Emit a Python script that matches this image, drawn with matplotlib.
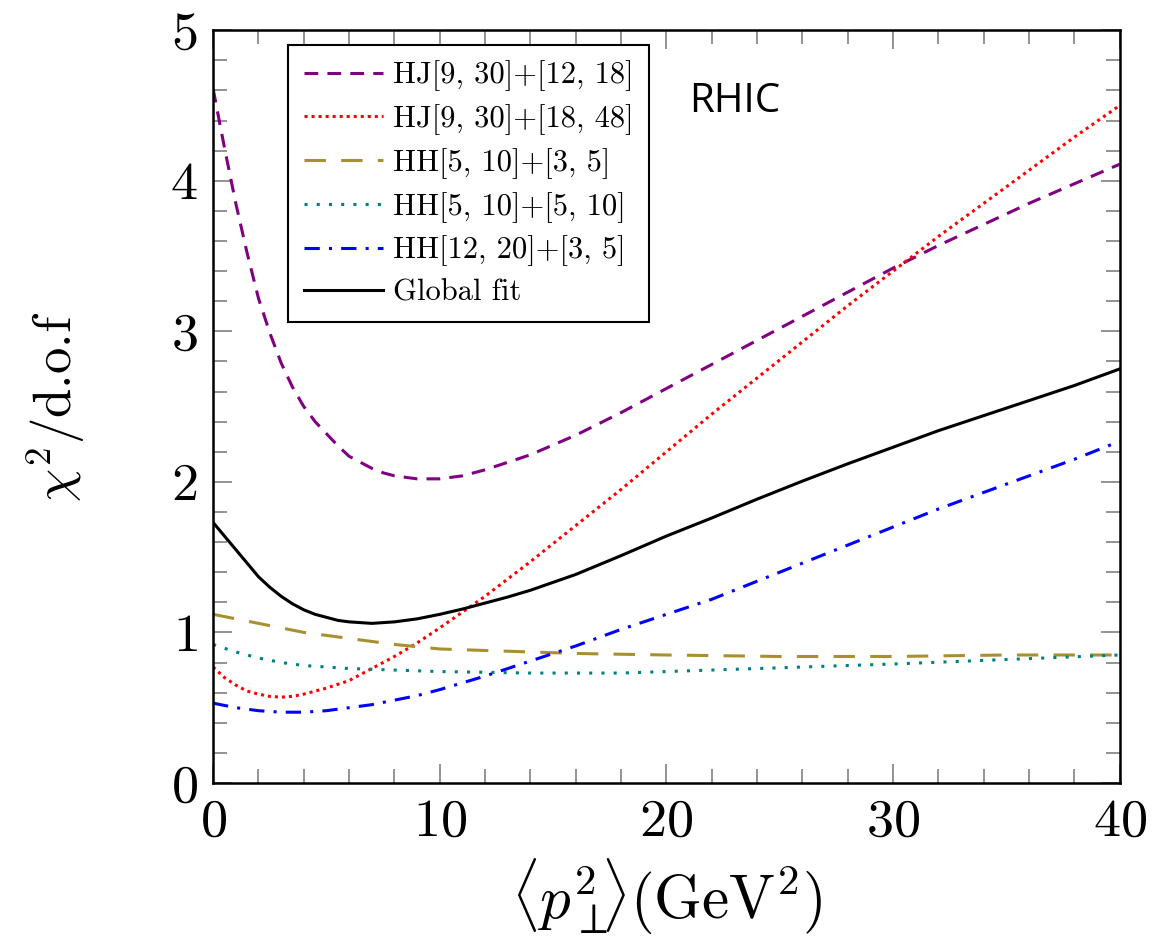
import matplotlib
matplotlib.use("Agg")
import matplotlib.pyplot as plt
import numpy as np

plt.rcParams['mathtext.fontset'] = 'cm'
plt.rcParams['font.family'] = ['cmr10', 'DejaVu Serif']
plt.rcParams['axes.formatter.use_mathtext'] = True

# chi^2/d.o.f
x_hj1 = [0, 0.5, 1, 1.5, 2, 2.5, 3, 3.5, 4, 4.5, 5, 5.5, 6, 6.5, 7, 7.5, 8, 9, 10, 11, 12, 14, 16, 18, 20,
         22, 24, 26, 28, 30, 32, 34, 36, 38, 40]
y_hj1 = [4.61, 4.22, 3.85, 3.52, 3.22, 2.99, 2.79, 2.63, 2.50, 2.40, 2.32, 2.24, 2.17, 2.13, 2.09, 2.06, 2.04,
         2.02, 2.02, 2.04, 2.08, 2.18, 2.31, 2.46, 2.62, 2.78, 2.94, 3.10, 3.26, 3.42, 3.57, 3.71, 3.85, 3.98, 4.11]

x_hj2 = [0, 0.5, 1, 1.5, 2, 2.5, 3, 3.5, 4, 4.5, 5, 5.5, 6, 7, 8, 9, 10, 12, 14, 16, 18, 20, 22, 24, 26, 28,
         30, 32, 34, 36, 38, 40]
y_hj2 = [0.77, 0.70, 0.65, 0.61, 0.59, 0.575, 0.57, 0.575, 0.59, 0.61, 0.63, 0.655, 0.68, 0.76, 0.84, 0.93,
         1.03, 1.24, 1.47, 1.71, 1.95, 2.20, 2.45, 2.69, 2.93, 3.17, 3.40, 3.63, 3.85, 4.07, 4.29, 4.50]

x_hh1 = [0, 2, 4, 6, 8, 10, 12, 14, 16, 20, 25, 30, 35, 40]
y_hh1 = [1.12, 1.06, 1.00, 0.96, 0.92, 0.89, 0.88, 0.87, 0.86, 0.85, 0.84, 0.84, 0.85, 0.85]

x_hh2 = [0, 1, 2, 3, 4, 6, 8, 10, 14, 18, 22, 26, 30, 35, 40]
y_hh2 = [0.92, 0.87, 0.83, 0.80, 0.78, 0.76, 0.75, 0.74, 0.73, 0.73, 0.75, 0.77, 0.79, 0.82, 0.85]

x_hh3 = [0, 1, 2, 3, 4, 5, 6, 7, 8, 9, 10, 12, 14, 16, 18, 20, 22, 24, 26, 28, 30, 32, 34, 36, 38, 40]
y_hh3 = [0.53, 0.50, 0.48, 0.47, 0.47, 0.48, 0.50, 0.52, 0.55, 0.58, 0.62, 0.71, 0.81, 0.91, 1.02, 1.12, 1.22,
         1.34, 1.46, 1.58, 1.70, 1.82, 1.93, 2.04, 2.15, 2.27]

x_glob = [0, 0.5, 1, 1.5, 2, 2.5, 3, 3.5, 4, 4.5, 5, 5.5, 6, 7, 8, 9, 10, 11, 12, 13, 14, 16, 18, 20, 22, 24,
          26, 28, 30, 32, 34, 36, 38, 40]
y_glob = [1.73, 1.64, 1.55, 1.46, 1.37, 1.30, 1.24, 1.19, 1.15, 1.12, 1.10, 1.08, 1.07, 1.06, 1.07, 1.09, 1.12,
          1.155, 1.195, 1.235, 1.28, 1.385, 1.51, 1.64, 1.76, 1.885, 2.005, 2.12, 2.23, 2.34, 2.44, 2.54, 2.64, 2.75]

labels = ['HJ[9, 30]+[12, 18]', 'HJ[9, 30]+[18, 48]', 'HH[5, 10]+[3, 5]',
          'HH[5, 10]+[5, 10]', 'HH[12, 20]+[3, 5]', 'Global fit']

fig = plt.figure(figsize=(11.52, 9.44), dpi=100)
ax = fig.add_axes([0.185, 0.1706, 0.787, 0.7974])

lw = 2.2
ax.plot(x_hj1, y_hj1, color='#800080', lw=lw, dashes=(4.5, 3), label=labels[0])
ax.plot(x_hj2, y_hj2, color='#ff0000', lw=lw, dashes=(1, 1.3), label=labels[1])
ax.plot(x_hh1, y_hh1, color='#a89030', lw=lw, dashes=(7, 5), label=labels[2])
ax.plot(x_hh2, y_hh2, color='#008080', lw=lw, dashes=(1, 3), label=labels[3])
ax.plot(x_hh3, y_hh3, color='#0000ff', lw=lw, dashes=(5, 3, 1, 3), label=labels[4])
ax.plot(x_glob, y_glob, color='black', lw=lw, label=labels[5])

ax.set_xlim(0, 40)
ax.set_ylim(0, 5)
ax.set_xticks([0, 10, 20, 30, 40])
ax.set_xticks(np.arange(0, 41, 2), minor=True)
ax.set_yticks([0, 1, 2, 3, 4, 5])
ax.set_yticks(np.arange(0, 5.01, 0.2), minor=True)
ax.tick_params(which='both', direction='in', top=True, right=True, color='gray',
               labelcolor='black', labelsize=39, pad=11)
ax.tick_params(which='major', length=14, width=1.2)
ax.tick_params(which='minor', length=10, width=1.2)
for s in ax.spines.values():
    s.set_linewidth(1.8)

ax.set_xlabel(r'$\langle p_{\perp}^{2}\!\!\rangle(\mathrm{GeV}^{2})$', fontsize=44)
ax.set_ylabel(r'$\chi^{2}$/d.o.f', fontsize=38)
ax.xaxis.set_label_coords(0.5, -0.098)
ax.yaxis.set_label_coords(-0.139, 0.5)

leg = ax.legend(loc='upper left', bbox_to_anchor=(0.083, 0.98), borderaxespad=0,
                fontsize=22, handlelength=2.6, handletextpad=0.33, labelspacing=0.42,
                fancybox=False, edgecolor='black', framealpha=1, borderpad=0.5)
leg.get_frame().set_linewidth(1.5)

ax.text(0.525, 0.905, 'RHIC', transform=ax.transAxes, fontsize=29,
        family='Open Sans', color='black', va='center')

fig.savefig('out.png', dpi=100)
